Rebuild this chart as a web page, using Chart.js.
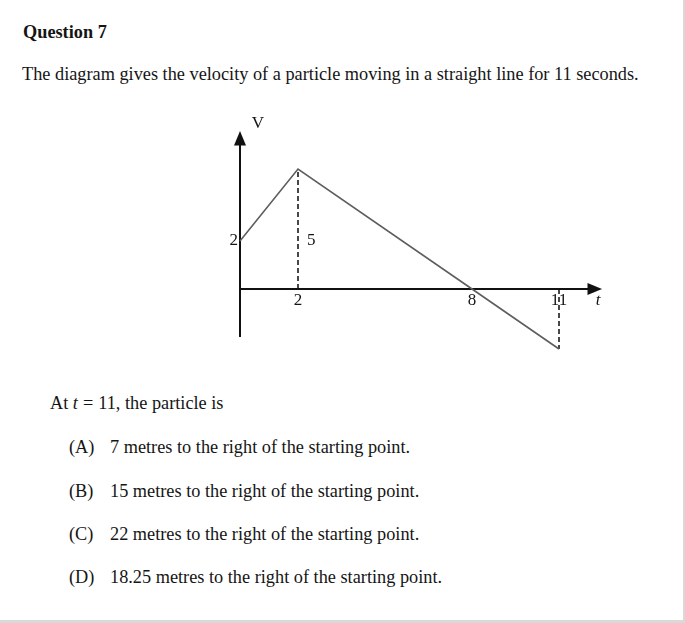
<!DOCTYPE html>
<html>
<head>
<meta charset="utf-8">
<script src="https://cdn.jsdelivr.net/npm/chart.js@4"></script>
<style>
  html, body { margin: 0; padding: 0; }
  body { background: #d9d9d9; width: 685px; height: 623px; overflow: hidden; }
  #page { position: absolute; left: 0; top: 0; width: 683px; height: 620px; background: #fff;
          font-family: "Liberation Serif", "DejaVu Serif", serif; color: #151515; }
  .t { position: absolute; white-space: nowrap; font-size: 18.3px; line-height: 20px; }
  .eq { margin: 0 5px; }
  #wrap { position: absolute; left: 190px; top: 110px; width: 440px; height: 260px; }
</style>
</head>
<body>
<div id="page">
  <div class="t" style="left:23px; top:22px; font-weight:bold;">Question 7</div>
  <div class="t" style="left:22px; top:64px;">The diagram gives the velocity of a particle moving in a straight line for 11 seconds.</div>
  <div class="t" style="left:50px; top:393px;">At <i>t</i><span class="eq">=</span>11, the particle is</div>
  <div class="t" style="left:69px; top:437px;">(A)</div><div class="t" style="left:110px; top:437px;">7 metres to the right of the starting point.</div>
  <div class="t" style="left:69px; top:481px;">(B)</div><div class="t" style="left:110px; top:481px;">15 metres to the right of the starting point.</div>
  <div class="t" style="left:69px; top:524px;">(C)</div><div class="t" style="left:110px; top:524px;">22 metres to the right of the starting point.</div>
  <div class="t" style="left:69px; top:567px;">(D)</div><div class="t" style="left:110px; top:567px;">18.25 metres to the right of the starting point.</div>
  <div id="wrap"><canvas id="c" width="440" height="260"></canvas></div>
</div>
<script>
// ---- data ----
const tValues = [0, 2, 8, 11];
const vValues = [2, 5, 0, -2.5];
const xTickLabels = [2, 8, 11];
const yTickLabels = [2];
const peakLabel = 5;
const tAxisEnd = 12;
const vAxisRange = [-2, 6];
const axisNames = ['t', 'V'];

// arrowhead image (tip at top, base at centre)
function makeArrow() {
  const c = document.createElement('canvas');
  c.width = 12; c.height = 28;
  const g = c.getContext('2d');
  g.fillStyle = '#111';
  g.beginPath(); g.moveTo(6, 0); g.lineTo(12, 14.5); g.lineTo(0, 14.5); g.closePath(); g.fill();
  return c;
}
const arrow = makeArrow();

const labelPlugin = {
  id: 'labels',
  afterDatasetsDraw(chart) {
    const ctx = chart.ctx, x = chart.scales.x, y = chart.scales.y;
    ctx.save();
    ctx.fillStyle = '#151515';
    ctx.font = '17px "Liberation Serif"';
    ctx.textBaseline = 'middle';
    ctx.textAlign = 'center';
    const y0 = y.getPixelForValue(0);
    xTickLabels.forEach(v => ctx.fillText(String(v), x.getPixelForValue(v), y0 + 12));
    ctx.textAlign = 'right';
    yTickLabels.forEach(v => ctx.fillText(String(v), x.getPixelForValue(0) - 2, y.getPixelForValue(v)));
    ctx.textAlign = 'left';
    ctx.fillText(String(peakLabel), x.getPixelForValue(tValues[1]) + 9, y.getPixelForValue(yTickLabels[0]));
    // axis names
    ctx.font = 'italic 17px "Liberation Serif"';
    ctx.textAlign = 'center';
    ctx.fillText(axisNames[0], x.getPixelForValue(tAxisEnd) + 10, y0 + 12);
    ctx.font = '17px "Liberation Serif"';
    ctx.fillText(axisNames[1], x.getPixelForValue(0) + 18, y.getPixelForValue(vAxisRange[1]) - 21);
    ctx.restore();
  }
};

const line = (data, extra) => Object.assign({
  data, showLine: true, borderColor: '#111', borderWidth: 2, pointRadius: 0, fill: false
}, extra);

new Chart(document.getElementById('c'), {
  type: 'scatter',
  data: {
    datasets: [
      line(tValues.map((t, i) => ({ x: t, y: vValues[i] })), { borderColor: '#5e5e5e', borderWidth: 1.6 }),
      line([{ x: 0, y: 0 }, { x: tAxisEnd, y: 0 }], { pointRadius: [0, 1], pointStyle: arrow, pointRotation: 90 }),
      line([{ x: 0, y: vAxisRange[0] }, { x: 0, y: vAxisRange[1] }], { pointRadius: [0, 1], pointStyle: arrow, pointRotation: 0 }),
      line([{ x: tValues[1], y: 0 }, { x: tValues[1], y: vValues[1] }], { borderDash: [5, 3], borderWidth: 1.8, borderColor: '#333' }),
      line([{ x: tValues[3], y: 0 }, { x: tValues[3], y: vValues[3] }], { borderDash: [5, 3], borderWidth: 1.8, borderColor: '#333' })
    ]
  },
  options: {
    responsive: false,
    animation: false,
    events: [],
    layout: { padding: { left: 6.5, right: 13, top: 11, bottom: 9 } },
    plugins: { legend: { display: false }, tooltip: { enabled: false } },
    scales: {
      x: { type: 'linear', min: -1.5, max: 13, display: false },
      y: { type: 'linear', min: -3, max: 7, display: false }
    }
  },
  plugins: [labelPlugin]
});
</script>
</body>
</html>
